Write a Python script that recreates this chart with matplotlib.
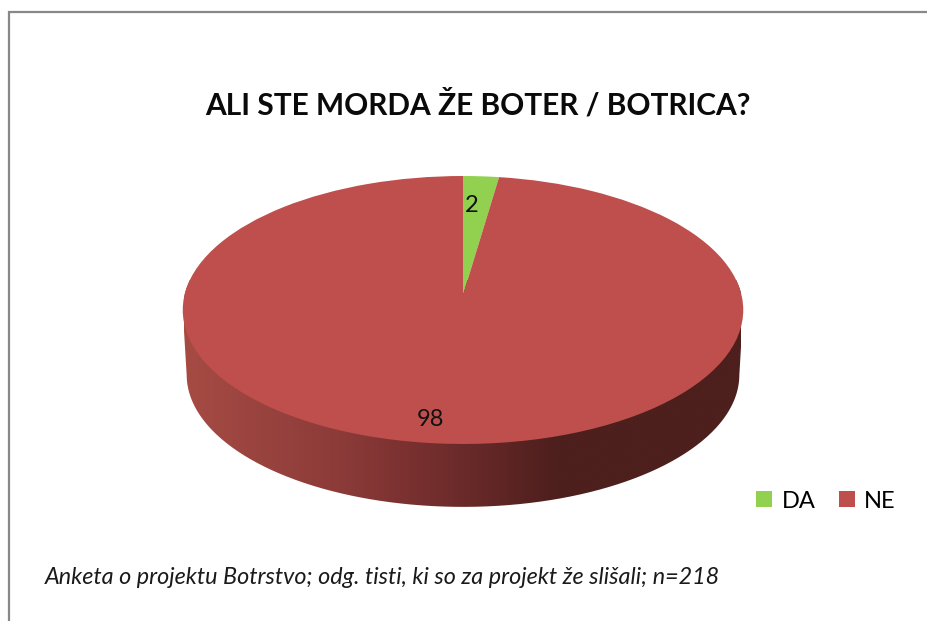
import numpy as np
import matplotlib
matplotlib.use("Agg")
import matplotlib.pyplot as plt
from matplotlib.patches import Patch, PathPatch
from matplotlib.path import Path
from matplotlib.transforms import Transform
from matplotlib.colors import LinearSegmentedColormap

# ---- data ----
categories = ["DA", "NE"]
values = [2.3, 97.7]
title = "ALI STE MORDA ŽE BOTER / BOTRICA?"
note = "Anketa o projektu Botrstvo; odg. tisti, ki so za projekt že slišali; n=218"

# ---- style ----
COLORS = ["#92D14F", "#BE4F4C"]
W, H = 928, 621
CX, CY = 463.0, 295.0
RX, RY, K = 278.5, 132.3, 0.1119
DEPTH_Y, DEPTH_S = 65.0, 0.986


class Perspective(Transform):
    """Tilted-disc projection of a unit pie onto the figure's pixel axes."""
    input_dims = output_dims = 2
    has_inverse = False
    is_separable = False

    def __init__(self, scale=1.0, dy=0.0):
        super().__init__()
        self.scale, self.dy = scale, dy

    def transform_non_affine(self, xy):
        xy = np.asarray(xy, float)
        d = 1 + K * xy[:, 1]
        return np.column_stack([
            CX + self.scale * RX * xy[:, 0] / d,
            CY + self.dy - self.scale * RY * xy[:, 1] / d,
        ])


fig = plt.figure(figsize=(W / 100, H / 100), dpi=100, facecolor="white")
ax = fig.add_axes([0, 0, 1, 1])

wedges, _ = ax.pie(values, colors=COLORS, startangle=90, counterclock=False,
                   wedgeprops=dict(linewidth=0))
ax.set_aspect("auto")
ax.set_xlim(0, W)
ax.set_ylim(H, 0)
ax.axis("off")

top = Perspective()
base = Perspective(DEPTH_S, DEPTH_Y)
for w in wedges:
    w.set_transform(top + ax.transData)
    w.set_zorder(3)

# side wall: base rim (lower half) closed against the top rim
t = np.linspace(0, 2 * np.pi, 721)
circle = np.column_stack([np.cos(t), np.sin(t)])
top_rim = top.transform_non_affine(circle)
base_rim = base.transform_non_affine(circle)
il = np.argmin(top_rim[:, 0]); ir = np.argmax(top_rim[:, 0])
jl = np.argmin(base_rim[:, 0]); jr = np.argmax(base_rim[:, 0])
lower = base_rim[jl:jr + 1] if jl < jr else np.vstack([base_rim[jl:], base_rim[:jr + 1]])
upper = top_rim[ir:il + 1] if ir < il else np.vstack([top_rim[ir:], top_rim[:il + 1]])
wall = Path(np.vstack([lower, upper, lower[:1]]))
wall_patch = PathPatch(wall, transform=ax.transData, facecolor="none", edgecolor="none")
ax.add_patch(wall_patch)

cmap = LinearSegmentedColormap.from_list("wall", [
    (0.00, "#A64B44"), (0.28, "#8C3B39"), (0.40, "#7A3130"),
    (0.50, "#6B2A2A"), (0.67, "#4D1F1D"), (1.00, "#4D1F1D")])
img = ax.imshow(np.linspace(0, 1, 512)[None, :], cmap=cmap, aspect="auto",
                extent=[CX - RX, CX + RX, 520, 280], zorder=2, interpolation="bilinear")
img.set_clip_path(wall_patch)
ax.set_xlim(0, W)
ax.set_ylim(H, 0)

# chart-area border (only the top and left sides are in frame)
ax.add_line(plt.Line2D([9, 9, W], [H, 12, 12], color="#888888", lw=1.6, zorder=5,
                       solid_joinstyle="miter"))

FONT = ["Lato", "DejaVu Sans"]
ax.text(478, 105, title, ha="center", va="center", fontsize=21.5, fontweight="bold",
        family=FONT, color="#0A0A0A")
ax.text(472, 206, f"{values[0]:.0f}", ha="center", va="center", fontsize=17, family=FONT,
        color="#111111", zorder=6)
ax.text(430, 420, f"{values[1]:.0f}", ha="center", va="center", fontsize=17, family=FONT,
        color="#111111", zorder=6)
ax.text(45, 577, note, ha="left", va="center", fontsize=16.8, style="italic",
        family=FONT, color="#1A1A1A")

handles = [Patch(facecolor=c, edgecolor="none") for c in COLORS]
ax.legend(handles, categories, loc="center", bbox_to_anchor=(826 / W, 1 - 501 / H),
          ncol=2, frameon=False, handlelength=0.68, handleheight=0.68, handletextpad=0.38,
          columnspacing=1.0, prop=dict(family=FONT, size=17))

fig.savefig("out.png", dpi=100, facecolor="white")
